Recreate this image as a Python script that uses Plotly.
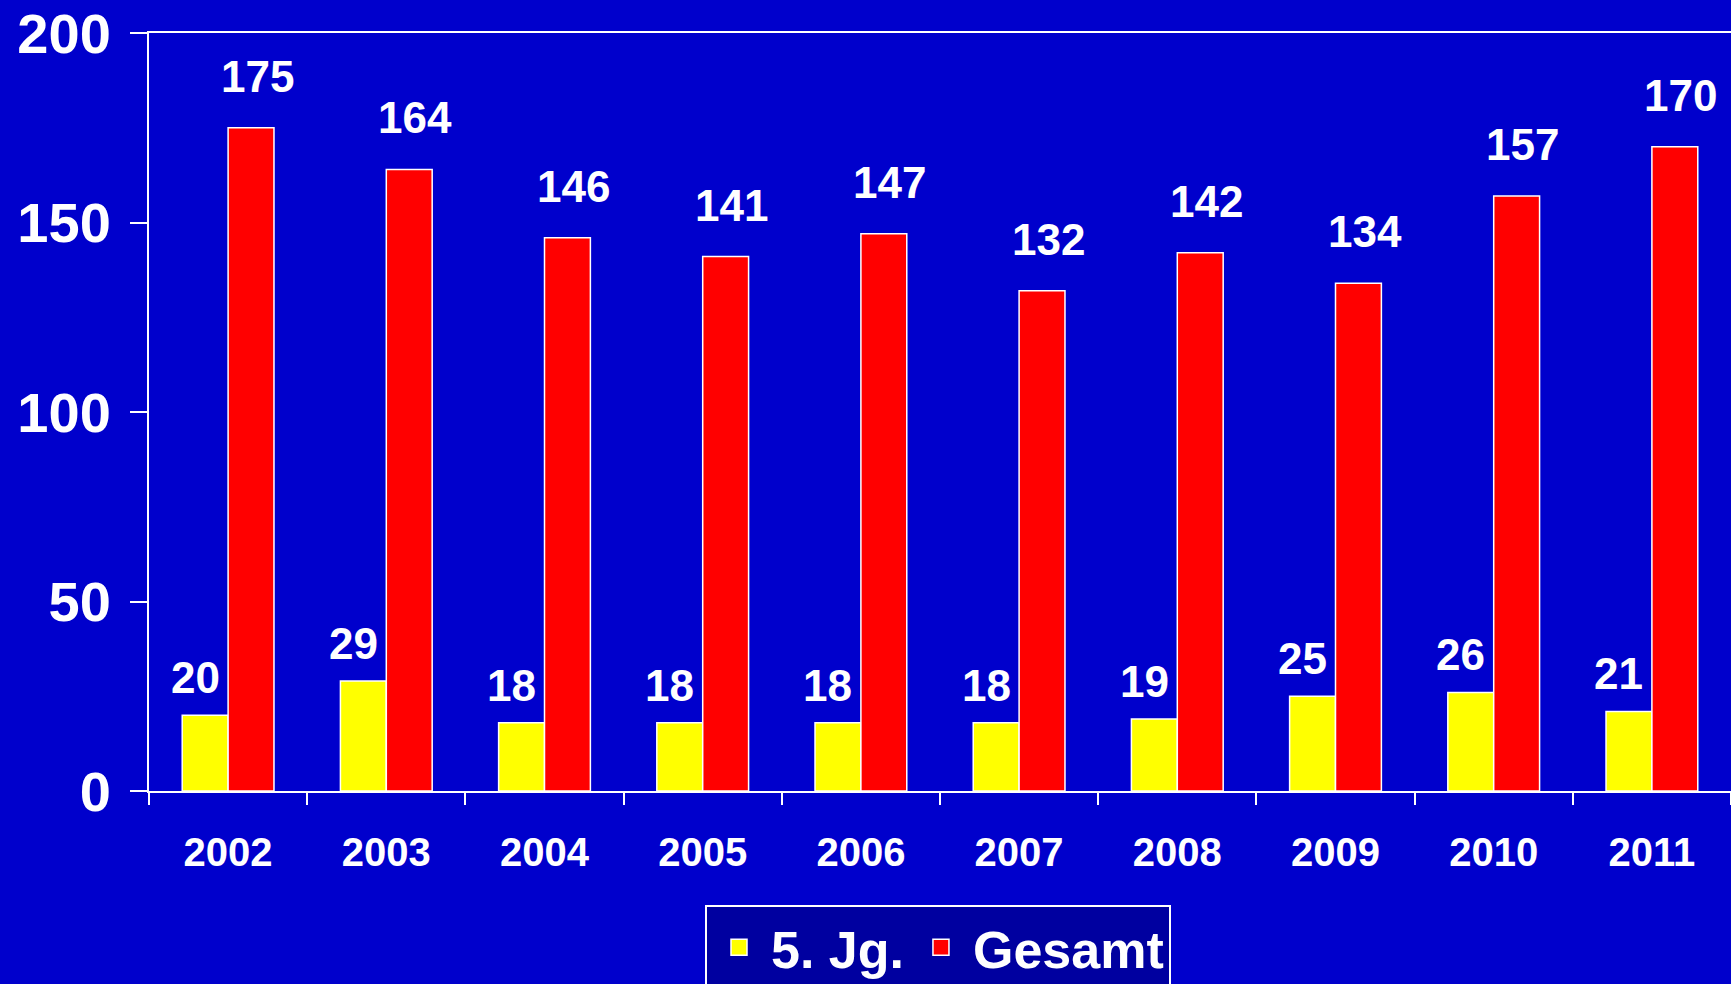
import plotly.graph_objects as go

years = ["2002", "2003", "2004", "2005", "2006", "2007", "2008", "2009", "2010", "2011"]
jg5 = [20, 29, 18, 18, 18, 18, 19, 25, 26, 21]
gesamt = [175, 164, 146, 141, 147, 132, 142, 134, 157, 170]
series_names = ["5. Jg.", "Gesamt"]
y_ticks = [0, 50, 100, 150, 200]

FONT = "Liberation Sans, Arial, sans-serif"
BG = "#0000CC"
YELLOW = "#FFFF00"
RED = "#FF0000"

fig = go.Figure()
fig.add_trace(go.Bar(x=years, y=jg5, name=series_names[0], marker=dict(color=YELLOW, line=dict(color="white", width=1.5)),
                     showlegend=False))
fig.add_trace(go.Bar(x=years, y=gesamt, name=series_names[1], marker=dict(color=RED, line=dict(color="white", width=1.5)),
                     showlegend=False))
# legend entries
for nm, col in zip(series_names, [YELLOW, RED]):
    fig.add_trace(go.Scatter(x=[years[0]], y=[None], mode="markers", name=nm, hoverinfo="skip",
                             marker=dict(symbol="square", size=16, color=col, line=dict(color="white", width=1.5))))

annotations = []
for i, v in enumerate(jg5):
    annotations.append(dict(x=i, y=v, xref="x", yref="y", text=str(v), showarrow=False,
                            yanchor="bottom", xshift=-33, yshift=11,
                            font=dict(family=FONT, size=44, color="white", weight="bold")))
for i, v in enumerate(gesamt):
    annotations.append(dict(x=i, y=v, xref="x", yref="y", text=str(v), showarrow=False,
                            yanchor="bottom", xshift=29, yshift=25,
                            font=dict(family=FONT, size=44, color="white", weight="bold")))

fig.update_layout(
    width=1731, height=984,
    margin=dict(l=149, r=0, t=33, b=193),
    paper_bgcolor=BG, plot_bgcolor=BG,
    barmode="group", bargap=0.42, bargroupgap=0,
    font=dict(family=FONT, color="white"),
    annotations=annotations,
    legend=dict(orientation="h", xref="container", yref="container",
                x=705 / 1731, xanchor="left", y=(984 - 905) / 984, yanchor="top",
                bgcolor="#0000A0", bordercolor="white", borderwidth=2,
                font=dict(family=FONT, size=52, color="white", weight="bold"),
                itemsizing="trace", itemwidth=54),
    xaxis=dict(type="category", categoryorder="array", categoryarray=years, range=[-0.5, len(years) - 0.5],
               tickson="boundaries", ticks="outside", ticklen=12, tickwidth=2, tickangle=0,
               tickcolor="white", showline=True, linecolor="white", linewidth=2, mirror=True,
               showgrid=False, ticklabelstandoff=25,
               tickfont=dict(family=FONT, size=40, color="white", weight="bold")),
    yaxis=dict(range=[0, 200], tickvals=y_ticks, ticks="outside", ticklen=17, tickwidth=2,
               tickcolor="white", showline=True, linecolor="white", linewidth=2,
               showgrid=False, zeroline=False, ticklabelstandoff=8,
               tickfont=dict(family=FONT, size=56, color="white", weight="bold")),
)

fig.write_html("out.html", config={"displayModeBar": False},
               post_script="document.body.style.margin='0';document.body.style.background='#0000CC';"
                           "document.body.style.overflow='hidden';")
